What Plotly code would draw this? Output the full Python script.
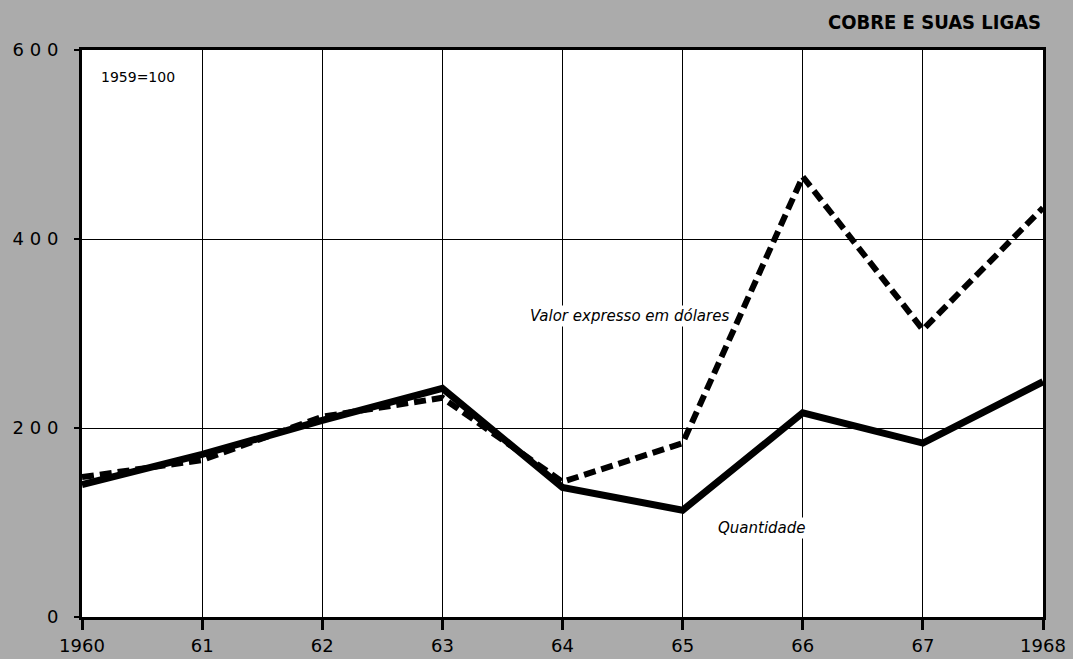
import plotly.graph_objects as go

# Índice 1959 = 100
anos = [1960, 1961, 1962, 1963, 1964, 1965, 1966, 1967, 1968]
rotulos_anos = ["1960", "61", "62", "63", "64", "65", "66", "67", "1968"]
quantidade = [140, 172, 208, 242, 137, 113, 216, 184, 249]
valor_dolares = [148, 166, 212, 232, 143, 184, 466, 304, 433]
y_ticks = [0, 200, 400, 600]
y_rotulos = ["0", "2 0 0", "4 0 0", "6 0 0"]

FUNDO = "#ababab"
FONTE = "DejaVu Sans, Liberation Sans, sans-serif"


def main():
    fig = go.Figure()
    fig.add_trace(go.Scatter(x=anos, y=valor_dolares, mode="lines",
                             line=dict(color="black", width=6, dash="12px,6px"),
                             showlegend=False, hoverinfo="skip"))
    fig.add_trace(go.Scatter(x=anos, y=quantidade, mode="lines",
                             line=dict(color="black", width=7),
                             showlegend=False, hoverinfo="skip"))

    fig.update_layout(
        width=1073, height=659,
        margin=dict(l=82, r=30, t=50, b=42),
        paper_bgcolor=FUNDO, plot_bgcolor="white",
        font=dict(family=FONTE, color="black", size=15),
    )
    fig.update_xaxes(
        range=[1960, 1968], tickvals=anos, ticktext=rotulos_anos,
        showgrid=True, gridcolor="black", gridwidth=1,
        showline=True, linecolor="black", linewidth=3, mirror=True,
        ticks="outside", ticklen=10, tickwidth=3, tickcolor="black",
        tickfont=dict(size=18), zeroline=False, automargin=False,
    )
    fig.update_yaxes(
        range=[0, 600], tickvals=y_ticks, ticktext=y_rotulos,
        showgrid=True, gridcolor="black", gridwidth=1,
        showline=True, linecolor="black", linewidth=3, mirror=True,
        ticks="outside", ticklen=5, tickwidth=2, tickcolor="black",
        tickfont=dict(size=18), ticklabelstandoff=12,
        zeroline=False, automargin=False,
    )

    fig.add_annotation(x=0.018, y=0.97, xref="paper", yref="paper",
                       text="1959=100", showarrow=False,
                       xanchor="left", yanchor="top",
                       font=dict(size=14), bgcolor="white")
    fig.add_annotation(x=1.0, y=1.0, xref="paper", yref="paper", yshift=14,
                       text="<b>COBRE E SUAS LIGAS</b>", showarrow=False,
                       xanchor="right", yanchor="bottom",
                       font=dict(family="DejaVu Sans Condensed, Liberation Sans Narrow, sans-serif",
                                 size=20))
    fig.add_annotation(x=1965.4, y=318, text="<i>Valor expresso em dólares</i>",
                       showarrow=False, xanchor="right", yanchor="middle",
                       font=dict(size=15), bgcolor="white")
    fig.add_annotation(x=1965.66, y=94, text="<i>Quantidade</i>",
                       showarrow=False, xanchor="center", yanchor="middle",
                       font=dict(size=15), bgcolor="white")

    # sem margem do body, para o gráfico ocupar a janela inteira
    fig.write_html("out.html", config={"displayModeBar": False},
                   post_script="document.body.style.margin='0';")


if __name__ == "__main__":
    main()
